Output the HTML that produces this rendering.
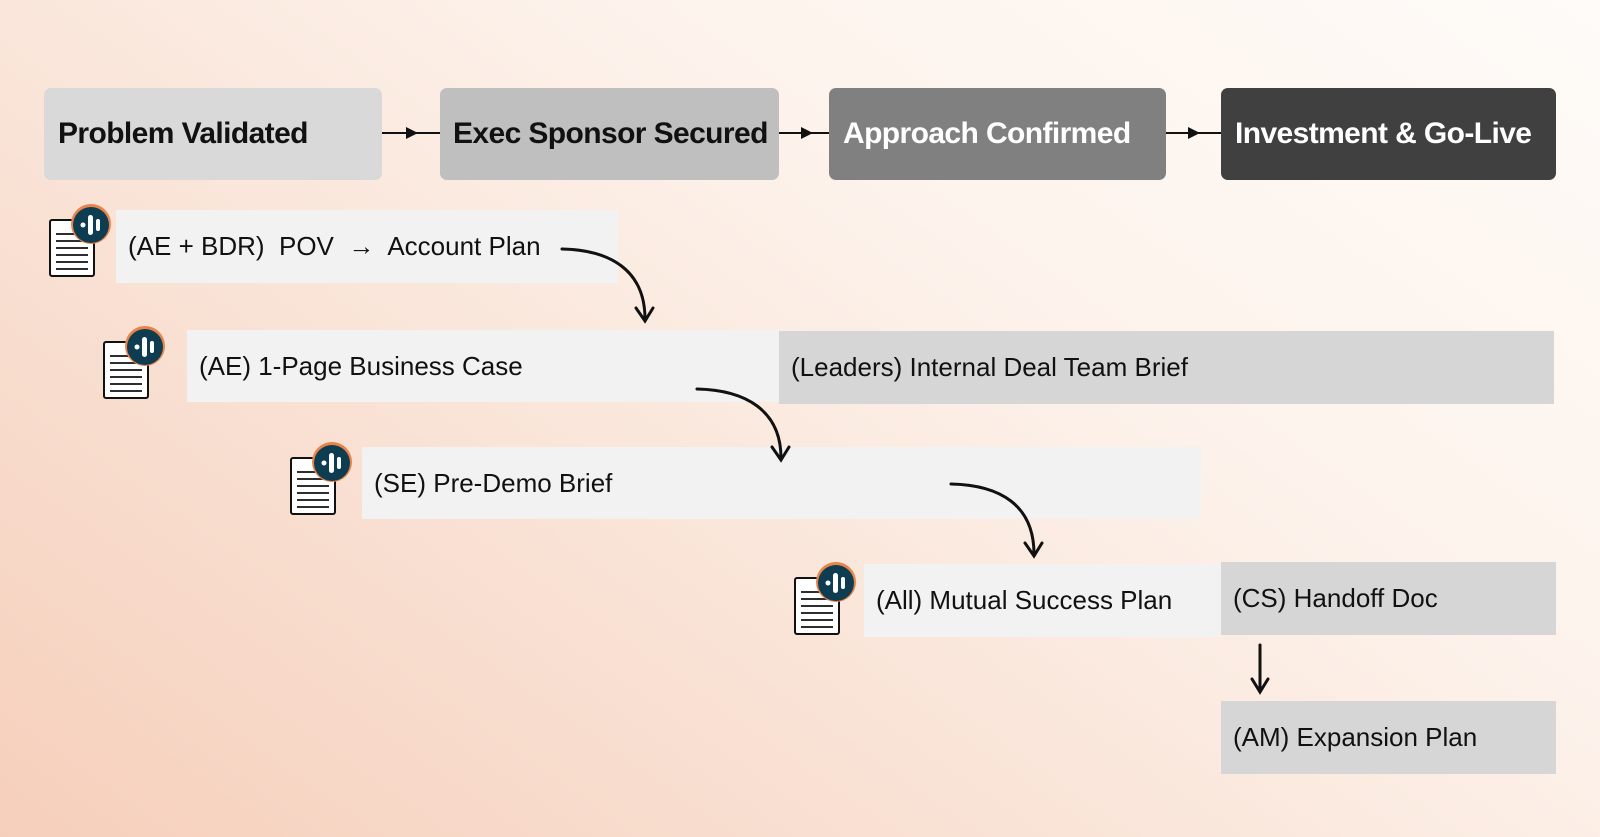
<!DOCTYPE html>
<html><head><meta charset="utf-8"><style>
body{margin:0;width:1600px;height:837px;overflow:hidden;font-family:"Liberation Sans",sans-serif;}
#bg{position:absolute;left:0;top:0;width:1600px;height:837px;background:linear-gradient(35deg,#f6cfbb 0%,#f9e2d5 35%,#fdf3ec 65%,#fefbf8 100%);}
.b{position:absolute;display:flex;align-items:center;box-sizing:border-box;white-space:nowrap;}
.top{border-radius:7px;font-weight:bold;font-size:30px;padding-left:14px;letter-spacing:-0.6px}
.row{font-size:26px;padding-left:12px;color:#111;background:#f2f2f2}
.g{background:#d6d6d6}
svg{position:absolute;left:0;top:0}
</style></head><body>
<div id="bg"></div>
<div class="b top" style="left:44px;top:88px;width:338px;height:92px;background:#d9d9d9;color:#111">Problem Validated</div>
<div class="b top" style="left:440px;top:88px;width:339px;height:92px;background:#bfbfbf;color:#111;padding-left:13px">Exec Sponsor Secured</div>
<div class="b top" style="left:829px;top:88px;width:337px;height:92px;background:#808080;color:#fff">Approach Confirmed</div>
<div class="b top" style="left:1221px;top:88px;width:335px;height:92px;background:#404040;color:#fff">Investment &amp; Go-Live</div>

<div class="b row" style="left:116px;top:210px;width:502px;height:73px">(AE + BDR)&nbsp; POV &nbsp;→&nbsp; Account Plan</div>
<div class="b row" style="left:187px;top:330px;width:592px;height:72px">(AE) 1-Page Business Case</div>
<div class="b row g" style="left:779px;top:331px;width:775px;height:73px">(Leaders) Internal Deal Team Brief</div>
<div class="b row" style="left:362px;top:447px;width:839px;height:72px">(SE) Pre-Demo Brief</div>
<div class="b row" style="left:864px;top:564px;width:357px;height:73px">(All) Mutual Success Plan</div>
<div class="b row g" style="left:1221px;top:562px;width:335px;height:73px">(CS) Handoff Doc</div>
<div class="b row g" style="left:1221px;top:701px;width:335px;height:73px">(AM) Expansion Plan</div>

<svg width="1600" height="837">
<defs>
<g id="ic">
<rect x="2" y="14" width="44" height="56" fill="#fff" stroke="#111" stroke-width="2" rx="2"/>
<g stroke="#111" stroke-width="1.8"><line x1="8" y1="28" x2="40" y2="28"/><line x1="8" y1="35" x2="40" y2="35"/><line x1="8" y1="42" x2="40" y2="42"/><line x1="8" y1="49" x2="40" y2="49"/><line x1="8" y1="56" x2="40" y2="56"/><line x1="8" y1="63" x2="40" y2="63"/></g>
<circle cx="43" cy="18" r="20" fill="#e8844a"/>
<circle cx="43" cy="19" r="18" fill="#0e3d52"/>
<g fill="#fff"><circle cx="35" cy="19" r="2.5"/><rect x="40" y="9" width="5" height="20" rx="2.5"/><rect x="48" y="13" width="4" height="12" rx="2"/></g>
</g>
<marker id="tri" markerWidth="6" markerHeight="6" refX="5" refY="3" orient="auto"><path d="M0,0 L6,3 L0,6z" fill="#111"/></marker>
</defs>
<use href="#ic" x="48" y="206"/>
<use href="#ic" x="102" y="328"/>
<use href="#ic" x="289" y="444"/>
<use href="#ic" x="793" y="564"/>
<g stroke="#111" stroke-width="2" fill="none">
<line x1="382" y1="133" x2="416" y2="133" marker-end="url(#tri)"/><line x1="412" y1="133" x2="440" y2="133"/>
<line x1="779" y1="133" x2="811" y2="133" marker-end="url(#tri)"/><line x1="808" y1="133" x2="829" y2="133"/>
<line x1="1166" y1="133" x2="1198" y2="133" marker-end="url(#tri)"/><line x1="1195" y1="133" x2="1221" y2="133"/>
</g>
<g stroke="#111" stroke-width="3" fill="none" stroke-linecap="round">
<path d="M562,249 C610,250 645,270 645,319"/><path d="M636,308 L645,321 L653,308"/>
<path d="M697,389 C745,390 781,410 781,458"/><path d="M772,447 L781,460 L789,447"/>
<path d="M951,484 C1000,485 1034,505 1034,554"/><path d="M1025,543 L1034,556 L1042,543"/>
<path d="M1260,645 L1260,691"/><path d="M1252,679 L1260,692 L1268,679"/>
</g>
</svg>
</body></html>
